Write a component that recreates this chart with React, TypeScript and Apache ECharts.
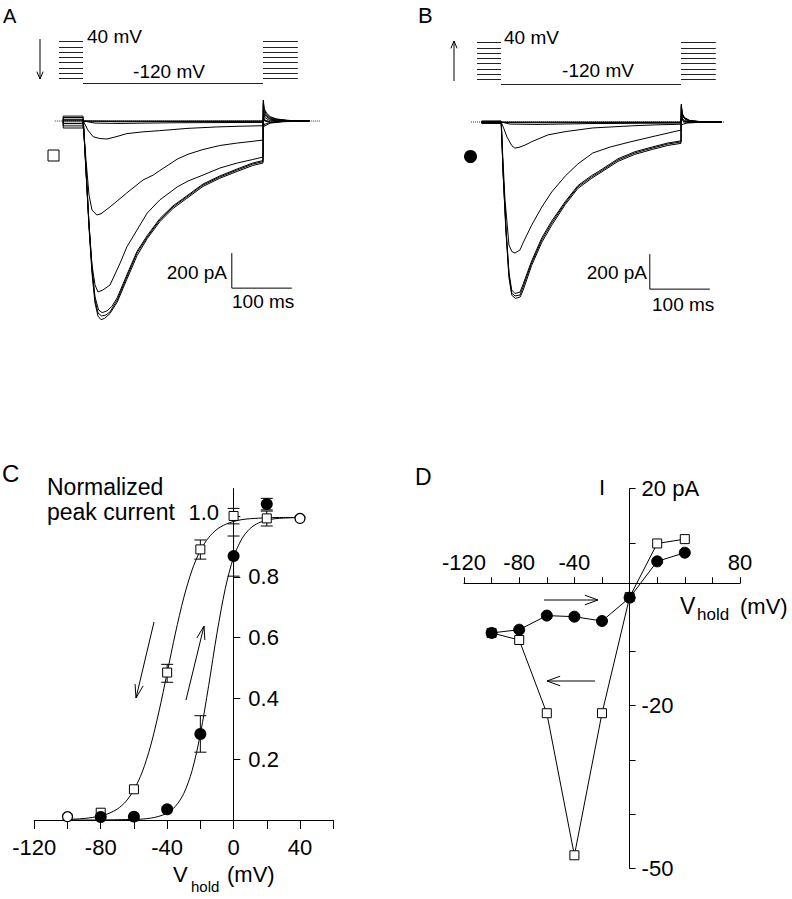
import React, { useEffect, useRef } from 'react';
import * as echarts from 'echarts';

const FONT = '"Liberation Sans", Arial, Helvetica, sans-serif';

// ---------- Panels A/B: voltage protocol ----------
const HOLD_LEVELS_MV = [40, 20, 0, -20, -40, -60, -80, -100];
const TEST_LEVEL_MV = -120;
const PRE_WINDOW_MS = [-40, 0];
const TEST_WINDOW_MS = [0, 300];
const POST_WINDOW_MS = [300, 358];

// ---------- Scale bars (ms, pA) ----------
const SCALE_BAR_T = [248, 348];
const SCALE_BAR_I = [-755, -955];

// ---------- Panel A current traces [ms, pA] ----------
const A_BASE_1 = [[-33, 0], [-33, 28], [0, 28], [0.5, 0], [300, 0], [302, -30], [312, -12], [335, -4], [378, 0]];
const A_BASE_2 = [[-33, 0], [-33, 20], [0, 20], [0.5, 0], [60, -4], [150, -3], [300, -2], [302, -20], [310, -10], [330, -3], [378, 0]];
const A_SMALL = [[-33, 0], [-33, 10], [0, 10], [0.5, 0], [20, -12], [60, -14], [150, -10], [300, -8], [300.5, 15], [303, 0], [312, -8], [330, -3], [378, 0]];
const A_TRACE_2 = [[-33, 0], [-33, 5], [0, 5], [0.5, 0], [8, -51], [17, -90], [28, -100], [40, -103], [55, -90], [73, -72], [100, -62], [128, -55], [175, -42], [223, -34], [260, -30], [300, -27], [300.5, 30], [303, 5], [312, -5], [330, -2], [378, 0]];
const A_TRACE_3 = [[-33, 0], [0, 0], [5, -223], [10, -423], [15, -509], [23, -537], [30, -530], [45, -491], [73, -411], [100, -337], [117, -309], [128, -283], [157, -218], [175, -190], [200, -163], [228, -140], [257, -126], [283, -116], [300, -109], [300.5, 60], [303, 20], [310, 5], [330, 0], [378, 0]];
const A_TRACE_4 = [[-33, 0], [-33, -13], [0, -13], [0.5, 0], [5, -280], [10, -594], [15, -823], [20, -937], [25, -977], [33, -966], [45, -937], [62, -811], [73, -720], [90, -623], [107, -526], [128, -451], [157, -377], [175, -343], [200, -309], [228, -269], [257, -240], [283, -220], [300, -206], [300.5, 90], [302, 40], [306, 22], [312, 10], [322, 5], [378, 0]];
const A_BIG_1 = [[-33, 0], [-33, -28], [0, -28], [0.5, 0], [5, -280], [10, -594], [15, -851], [20, -1023], [25, -1097], [31, -1114], [38, -1109], [45, -1091], [57, -1023], [73, -891], [90, -754], [107, -663], [128, -566], [150, -491], [173, -434], [200, -366], [228, -320], [257, -280], [283, -246], [300, -232], [300.5, 120], [302, 70], [306, 45], [312, 25], [322, 12], [340, 4], [362, 0], [378, 0]];
const A_BIG_2 = [[-33, 0], [-33, -40], [0, -40], [0.5, 0], [5, -290], [10, -610], [15, -870], [20, -1040], [25, -1115], [30, -1135], [36, -1128], [45, -1100], [57, -1035], [73, -905], [90, -770], [107, -672], [128, -575], [150, -500], [173, -442], [200, -374], [228, -327], [257, -288], [283, -254], [300, -240], [300.5, 110], [302, 60], [306, 38], [312, 20], [322, 10], [340, 3], [378, 0]];
const A_BIG_3 = [[-33, 0], [-33, -15], [0, -15], [0.5, 0], [5, -275], [10, -585], [15, -840], [20, -1005], [26, -1080], [32, -1095], [40, -1085], [48, -1060], [57, -1010], [73, -880], [90, -745], [107, -655], [128, -558], [150, -485], [173, -428], [200, -360], [228, -314], [257, -274], [283, -240], [300, -226], [300.5, 100], [302, 50], [306, 30], [312, 15], [322, 8], [340, 2], [378, 0]];
const A_ZERO = [[-47, 0], [395, 0]];

// ---------- Panel B current traces [ms, pA] ----------
const B_BASE_1 = [[-32, 0], [-32, 4], [0, 4], [0.5, 0], [300, 0], [301, -15], [310, -6], [330, -2], [368, 0]];
const B_BASE_2 = [[-32, 0], [-32, -3], [0, -3], [0.5, 0], [60, -4], [300, -3], [300.5, 20], [305, 0], [320, -3], [368, 0]];
const B_SMALL = [[-32, 0], [-32, -6], [0, -6], [0.5, 0], [15, -12], [60, -14], [150, -9], [300, -6], [300.5, 30], [304, 5], [315, -3], [368, 0]];
const B_TRACE_2 = [[-32, 0], [-32, 2], [0, 2], [0.5, 0], [5, -40], [10, -86], [18, -135], [23, -149], [30, -145], [40, -132], [51, -113], [78, -74], [107, -55], [153, -34], [223, -21], [260, -16], [300, -13], [300.5, 50], [303, 15], [310, 3], [330, 0], [368, 0]];
const B_TRACE_3 = [[-32, 0], [-32, -2], [0, -2], [0.5, 0], [6.7, -446], [13.3, -703], [18, -740], [23.3, -749], [31.7, -731], [36.7, -691], [51, -590], [68, -486], [84.5, -400], [107, -309], [128, -240], [153, -177], [182, -143], [215, -114], [257, -80], [300, -46], [300.5, 80], [303, 30], [310, 8], [330, 1], [368, 0]];
const B_BIG_1 = [[-32, 0], [-32, 6], [0, 6], [0.5, 0], [3.3, -274], [8.3, -617], [13.3, -874], [17.8, -977], [23.3, -994], [31.7, -989], [36.7, -943], [51, -806], [68, -674], [84.5, -577], [107, -463], [128, -371], [151, -314], [162, -291], [195, -217], [223, -177], [252, -149], [278, -126], [300, -114], [300.5, 103], [302, 50], [306, 25], [314, 10], [330, 3], [368, 0]];
const B_BIG_2 = [[-32, 0], [-32, -4], [0, -4], [0.5, 0], [3.3, -280], [8.3, -630], [13.3, -890], [18, -990], [24, -1008], [32, -1000], [37, -960], [51, -820], [68, -688], [84.5, -590], [107, -472], [128, -380], [151, -322], [162, -298], [195, -225], [223, -185], [252, -157], [278, -134], [300, -122], [300.5, 95], [302, 45], [306, 22], [314, 8], [330, 2], [368, 0]];
const B_BIG_3 = [[-32, 0], [-32, -8], [0, -8], [0.5, 0], [3.3, -270], [8.3, -605], [13.3, -860], [17.8, -960], [23.3, -980], [31.7, -972], [36.7, -928], [51, -795], [68, -662], [84.5, -566], [107, -455], [128, -364], [151, -306], [162, -284], [195, -210], [223, -170], [252, -143], [278, -120], [300, -108], [300.5, 90], [302, 40], [306, 20], [314, 7], [330, 2], [368, 0]];
const B_ZERO = [[-50, 0], [372, 0]];

// ---------- Panel C: normalized peak current vs V_hold ----------
const C_X_TICKS = [-120, -100, -80, -60, -40, -20, 0, 20, 40, 60];
const C_X_LABELS = [-120, -80, -40, 0, 40];
const C_Y_TICKS = [0.2, 0.4, 0.6, 0.8, 1.0];
const C_Y_LABELS = [0.2, 0.4, 0.6, 0.8];
const C_SQUARE = [[-80, 0.024], [-60, 0.101], [-40, 0.485], [-20, 0.89], [0, 1.0], [20, 0.992]];
const C_SQUARE_ERR = [[-40, 0.453, 0.512], [-20, 0.858, 0.921], [0, 0.974, 1.025], [20, 0.967, 1.016]];
const C_CIRCLE = [[-80, 0.01], [-60, 0.011], [-40, 0.035], [-20, 0.283], [0, 0.868], [20, 1.039]];
const C_CIRCLE_ERR = [[-20, 0.223, 0.343], [0, 0.802, 0.934], [20, 1.02, 1.058]];
const C_BOTH = [[-100, 0.011], [40, 0.992]];
const C_FIT_SQUARE = [[-100, 0.002], [-90, 0.005], [-80, 0.013], [-75, 0.022], [-70, 0.036], [-65, 0.06], [-60, 0.099], [-55, 0.158], [-50, 0.243], [-45, 0.355], [-40, 0.484], [-35, 0.615], [-30, 0.731], [-25, 0.822], [-20, 0.887], [-15, 0.929], [-10, 0.956], [-5, 0.972], [0, 0.982], [5, 0.988], [10, 0.991], [20, 0.994], [30, 0.995], [40, 0.995]];
const C_FIT_CIRCLE = [[-100, 0.0], [-90, 0.0], [-80, 0.0], [-70, 0.001], [-60, 0.002], [-55, 0.003], [-50, 0.006], [-45, 0.012], [-40, 0.023], [-35, 0.045], [-30, 0.087], [-25, 0.162], [-20, 0.282], [-15, 0.442], [-10, 0.614], [-5, 0.761], [0, 0.864], [5, 0.925], [10, 0.959], [15, 0.977], [20, 0.986], [25, 0.991], [30, 0.993], [40, 0.995]];

// ---------- Panel D: I vs V_hold ----------
const D_X_TICKS = [-120, -100, -80, -60, -40, -20, 0, 20, 40, 60, 80];
const D_X_LABELS = [-120, -80, -40, 80];
const D_Y_TICKS = [-50, -40, -30, -20, -10, 0, 10, 20];
const D_Y_LABELS = [20, -20, -50];
const D_SQUARE = [[-100, -6.6], [-80, -7.9], [-60, -21.4], [-40, -47.6], [-20, -21.4], [0, 0], [20, 9.9], [40, 10.7]];
const D_CIRCLE = [[-100, -6.6], [-80, -6.0], [-60, -3.4], [-40, -3.6], [-20, -4.4], [0, -0.1], [20, 6.6], [40, 8.2]];

const BLACK = '#000';

function arrow(x1: number, y1: number, x2: number, y2: number, head: number, spread: number) {
  const ang = Math.atan2(y2 - y1, x2 - x1);
  const a1 = ang + Math.PI - spread;
  const a2 = ang + Math.PI + spread;
  return [
    { type: 'line', shape: { x1, y1, x2, y2 }, style: { stroke: BLACK, lineWidth: 1 }, silent: true },
    {
      type: 'polyline',
      shape: {
        points: [
          [x2 + head * Math.cos(a1), y2 + head * Math.sin(a1)],
          [x2, y2],
          [x2 + head * Math.cos(a2), y2 + head * Math.sin(a2)],
        ],
      },
      style: { stroke: BLACK, lineWidth: 1, fill: null },
      silent: true,
    },
  ];
}

function txt(text: string, x: number, y: number, size: number, align = 'left') {
  return {
    type: 'text',
    x,
    y,
    silent: true,
    style: { text, fontSize: size, fontFamily: FONT, fill: BLACK, align, verticalAlign: 'middle' },
  };
}

function traceSeries(data: number[][], idx: number) {
  return {
    type: 'line',
    xAxisIndex: idx,
    yAxisIndex: idx,
    data,
    symbol: 'none',
    silent: true,
    lineStyle: { color: BLACK, width: 1 },
    z: 2,
  };
}

function protocolData() {
  return [
    ...HOLD_LEVELS_MV.map((v) => ({ coords: [[PRE_WINDOW_MS[0], v], [PRE_WINDOW_MS[1], v]] })),
    ...HOLD_LEVELS_MV.map((v) => ({ coords: [[POST_WINDOW_MS[0], v], [POST_WINDOW_MS[1], v]] })),
    { coords: [[TEST_WINDOW_MS[0], TEST_LEVEL_MV], [TEST_WINDOW_MS[1], TEST_LEVEL_MV]] },
  ];
}

function errorBarSeries(data: number[][]) {
  return {
    type: 'custom',
    xAxisIndex: 4,
    yAxisIndex: 4,
    data,
    silent: true,
    z: 3,
    clip: false,
    renderItem: (_p: any, api: any) => {
      const x = api.value(0);
      const lo = api.value(1);
      const hi = api.value(2);
      const top = api.coord([x, hi]);
      const bot = api.coord([x, lo]);
      const w = 6;
      const st = { stroke: BLACK, lineWidth: 1 };
      return {
        type: 'group',
        children: [
          { type: 'line', shape: { x1: top[0], y1: top[1], x2: bot[0], y2: bot[1] }, style: st },
          { type: 'line', shape: { x1: top[0] - w, y1: top[1], x2: top[0] + w, y2: top[1] }, style: st },
          { type: 'line', shape: { x1: bot[0] - w, y1: bot[1], x2: bot[0] + w, y2: bot[1] }, style: st },
        ],
      };
    },
  };
}

function buildOption() {
  const axisLineStyle = { color: BLACK, width: 1 };
  const hiddenX = (gridIndex: number, min: number, max: number) => ({ type: 'value', gridIndex, min, max, show: false, axisLine: { onZero: false } });
  const hiddenY = (gridIndex: number, min: number, max: number) => ({ type: 'value', gridIndex, min, max, show: false, axisLine: { onZero: false } });

  const graphic: any[] = [
    // panel letters
    txt('A', 3, 16, 20),
    txt('B', 418, 15, 22),
    txt('C', 2, 473, 24),
    txt('D', 415, 477, 23),
    // protocol labels
    txt('40 mV', 87, 36, 19),
    txt('-120 mV', 169, 71, 19, 'center'),
    txt('40 mV', 504, 37, 19),
    txt('-120 mV', 598, 70, 19, 'center'),
    // scale bar labels
    txt('200 pA', 227, 272, 19, 'right'),
    txt('100 ms', 232, 301, 19),
    txt('200 pA', 647, 272, 19, 'right'),
    txt('100 ms', 652, 304, 19),
    // symbols next to traces
    { type: 'rect', shape: { x: 48, y: 150, width: 11, height: 11 }, style: { fill: '#fff', stroke: BLACK, lineWidth: 1 }, silent: true },
    { type: 'circle', shape: { cx: 470.5, cy: 156.5, r: 6.5 }, style: { fill: BLACK }, silent: true },
    // arrows
    ...arrow(40, 39, 40, 79, 8, 0.4),
    ...arrow(454, 81, 454, 41, 8, 0.4),
    ...arrow(154, 622, 136, 698, 14, 0.3),
    ...arrow(186, 700, 204, 626, 14, 0.3),
    ...arrow(544, 600, 598, 600, 14, 0.35),
    ...arrow(595, 681, 547, 681, 14, 0.35),
    // panel C labels
    txt('Normalized', 47, 487, 23),
    txt('peak current', 47, 512, 23),
    txt('1.0', 219, 512, 22, 'right'),
    txt('V', 173, 874, 22),
    txt('hold', 191, 886, 15),
    txt('(mV)', 227, 874, 22),
    // panel D labels
    txt('I', 602, 487, 22, 'center'),
    txt('V', 680, 606, 23),
    txt('hold', 697, 614, 17),
    txt('(mV)', 740, 606, 22),
  ];

  return {
    animation: false,
    backgroundColor: '#fff',
    textStyle: { fontFamily: FONT },
    grid: [
      { left: 53, top: 94.75, width: 270, height: 227.5 }, // 0 A traces
      { left: 471, top: 95.75, width: 258, height: 227.5 }, // 1 B traces
      { left: 53, top: 39.1, width: 270, height: 47.05 }, // 2 A protocol
      { left: 471, top: 40.0, width: 258, height: 47.05 }, // 3 B protocol
      { left: 34.3, top: 488.6, width: 298.9, height: 331.4 }, // 4 C data
      { left: 464, top: 488.7, width: 276, height: 379.6 }, // 5 D data
      { left: 464, top: 583.3, width: 276, height: 40 }, // 6 D x-axis
      { left: 233.3, top: 488.6, width: 60, height: 331.4 }, // 7 C y-axis (at V = 0)
      { left: 629.6, top: 488.7, width: 60, height: 379.6 }, // 8 D y-axis (at V = 0)
    ],
    xAxis: [
      hiddenX(0, -50, 400),
      hiddenX(1, -50, 380),
      hiddenX(2, -50, 400),
      hiddenX(3, -50, 380),
      {
        type: 'value',
        gridIndex: 4,
        min: -120,
        max: 60,
        interval: 20,
        axisLine: { onZero: false, lineStyle: axisLineStyle },
        axisTick: { show: true, length: 9, inside: false, lineStyle: axisLineStyle, customValues: C_X_TICKS },
        axisLabel: { customValues: C_X_LABELS, margin: 16, color: BLACK, fontSize: 22, fontFamily: FONT },
        splitLine: { show: false },
      },
      hiddenX(5, -120, 80),
      {
        type: 'value',
        gridIndex: 6,
        position: 'top',
        min: -120,
        max: 80,
        interval: 20,
        axisLine: { onZero: false, lineStyle: axisLineStyle },
        axisTick: { show: true, length: 6, inside: false, lineStyle: axisLineStyle, customValues: D_X_TICKS },
        axisLabel: { customValues: D_X_LABELS, margin: 10, color: BLACK, fontSize: 22, fontFamily: FONT },
        splitLine: { show: false },
      },
      hiddenX(7, 0, 1),
      hiddenX(8, 0, 1),
    ],
    yAxis: [
      hiddenY(0, -1150, 150),
      hiddenY(1, -1150, 150),
      hiddenY(2, -130, 50),
      hiddenY(3, -130, 50),
      hiddenY(4, 0, 1.09),
      hiddenY(5, -50, 20),
      hiddenY(6, 0, 1),
      {
        type: 'value',
        gridIndex: 7,
        position: 'left',
        min: 0,
        max: 1.09,
        interval: 0.2,
        axisLine: { show: true, onZero: false, lineStyle: axisLineStyle },
        axisTick: { show: true, inside: true, length: 7, lineStyle: axisLineStyle, customValues: C_Y_TICKS },
        axisLabel: {
          inside: true,
          margin: 15,
          customValues: C_Y_LABELS,
          formatter: (v: number) => v.toFixed(1),
          color: BLACK,
          fontSize: 22,
          fontFamily: FONT,
        },
        splitLine: { show: false },
      },
      {
        type: 'value',
        gridIndex: 8,
        position: 'left',
        min: -50,
        max: 20,
        interval: 10,
        axisLine: { show: true, onZero: false, lineStyle: axisLineStyle },
        axisTick: { show: true, inside: true, length: 6, lineStyle: axisLineStyle, customValues: D_Y_TICKS },
        axisLabel: {
          inside: true,
          margin: 12,
          customValues: D_Y_LABELS,
          formatter: (v: number) => (v === 20 ? '20 pA' : String(v)),
          color: BLACK,
          fontSize: 22,
          fontFamily: FONT,
        },
        splitLine: { show: false },
      },
    ],
    graphic,
    series: [
      // A traces
      { ...traceSeries(A_ZERO, 0), lineStyle: { color: '#333', width: 1, type: 'dotted' } },
      traceSeries(A_BASE_1, 0),
      traceSeries(A_BASE_2, 0),
      traceSeries(A_SMALL, 0),
      traceSeries(A_TRACE_2, 0),
      traceSeries(A_TRACE_3, 0),
      traceSeries(A_TRACE_4, 0),
      traceSeries(A_BIG_1, 0),
      traceSeries(A_BIG_2, 0),
      traceSeries(A_BIG_3, 0),
      traceSeries([[SCALE_BAR_T[0], SCALE_BAR_I[0]], [SCALE_BAR_T[0], SCALE_BAR_I[1]], [SCALE_BAR_T[1], SCALE_BAR_I[1]]], 0),
      // B traces
      { ...traceSeries(B_ZERO, 1), lineStyle: { color: '#333', width: 1, type: 'dotted' } },
      traceSeries(B_BASE_1, 1),
      traceSeries(B_BASE_2, 1),
      traceSeries(B_SMALL, 1),
      traceSeries(B_TRACE_2, 1),
      traceSeries(B_TRACE_3, 1),
      traceSeries(B_BIG_1, 1),
      traceSeries(B_BIG_2, 1),
      traceSeries(B_BIG_3, 1),
      traceSeries([[SCALE_BAR_T[0], SCALE_BAR_I[0]], [SCALE_BAR_T[0], SCALE_BAR_I[1]], [SCALE_BAR_T[1], SCALE_BAR_I[1]]], 1),
      // protocols
      {
        type: 'lines',
        coordinateSystem: 'cartesian2d',
        xAxisIndex: 2,
        yAxisIndex: 2,
        data: protocolData(),
        silent: true,
        lineStyle: { color: '#222', width: 1, opacity: 1 },
      },
      {
        type: 'lines',
        coordinateSystem: 'cartesian2d',
        xAxisIndex: 3,
        yAxisIndex: 3,
        data: protocolData(),
        silent: true,
        lineStyle: { color: '#222', width: 1, opacity: 1 },
      },
      // C fits
      {
        type: 'line', xAxisIndex: 4, yAxisIndex: 4, data: C_FIT_SQUARE, symbol: 'none', smooth: 0.3,
        lineStyle: { color: BLACK, width: 1 }, silent: true, z: 2,
      },
      {
        type: 'line', xAxisIndex: 4, yAxisIndex: 4, data: C_FIT_CIRCLE, symbol: 'none', smooth: 0.3,
        lineStyle: { color: BLACK, width: 1 }, silent: true, z: 2,
      },
      errorBarSeries(C_SQUARE_ERR),
      errorBarSeries(C_CIRCLE_ERR),
      {
        type: 'scatter', xAxisIndex: 4, yAxisIndex: 4, data: C_SQUARE, symbol: 'rect', symbolSize: 9,
        itemStyle: { color: '#fff', borderColor: BLACK, borderWidth: 1, opacity: 1 }, silent: true, z: 5, clip: false,
      },
      {
        type: 'scatter', xAxisIndex: 4, yAxisIndex: 4, data: C_CIRCLE, symbol: 'circle', symbolSize: 12,
        itemStyle: { color: BLACK, opacity: 1 }, silent: true, z: 6, clip: false,
      },
      {
        type: 'scatter', xAxisIndex: 4, yAxisIndex: 4, data: C_BOTH, symbol: 'circle', symbolSize: 10,
        itemStyle: { color: '#fff', borderColor: BLACK, borderWidth: 1.3, opacity: 1 }, silent: true, z: 6, clip: false,
      },
      // D
      {
        type: 'line', xAxisIndex: 5, yAxisIndex: 5, data: D_SQUARE, symbol: 'rect', symbolSize: 9,
        itemStyle: { color: '#fff', borderColor: BLACK, borderWidth: 1 }, lineStyle: { color: BLACK, width: 1 },
        silent: true, z: 4, clip: false,
      },
      {
        type: 'line', xAxisIndex: 5, yAxisIndex: 5, data: D_CIRCLE, symbol: 'circle', symbolSize: 11,
        itemStyle: { color: BLACK, borderColor: BLACK }, lineStyle: { color: BLACK, width: 1 },
        silent: true, z: 5, clip: false,
      },
    ],
  };
}

export default function App() {
  const ref = useRef<HTMLDivElement>(null);
  useEffect(() => {
    if (!ref.current) return;
    const chart = echarts.init(ref.current, null, { renderer: 'svg' });
    chart.setOption(buildOption() as any);
    return () => chart.dispose();
  }, []);
  return (
    <div
      ref={ref}
      style={{ position: 'absolute', left: 0, top: 0, width: 792, height: 899, background: '#fff' }}
    />
  );
}
